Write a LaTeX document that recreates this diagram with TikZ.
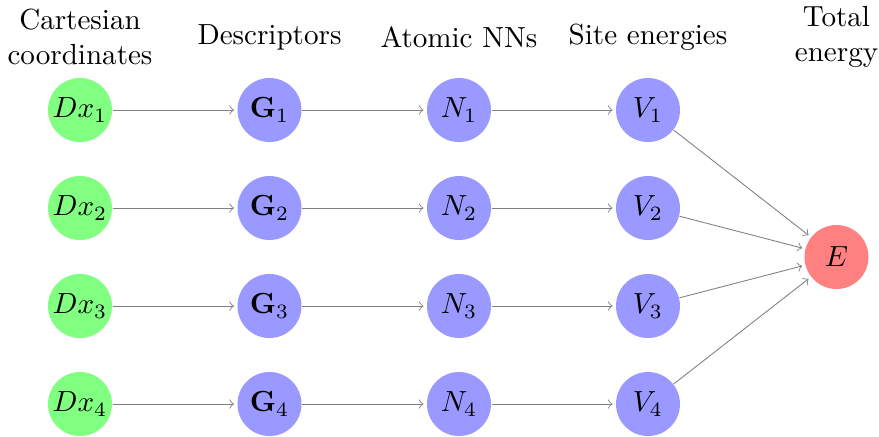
\documentclass[tikz,border=0pt]{standalone}
\begin{document}
\begin{tikzpicture}[x=0.3437pt,y=-0.3437pt,
  neuron/.style={circle,minimum size=22pt,inner sep=0pt},
  inp/.style={neuron,fill=green!50},
  hid/.style={neuron,fill=blue!40},
  outp/.style={neuron,fill=red!50},
  conn/.style={->,draw=gray,line width=0.3pt,shorten >=1pt},
  annot/.style={align=center,text centered}]
\useasboundingbox (0,0) rectangle (879,436);
\foreach \r/\y in {1/110,2/208,3/306,4/404}{
  \node[inp] (D\r) at (80,\y) {$Dx_\r$};
  \node[hid] (G\r) at (269.5,\y) {$\mathbf{G}_\r$};
  \node[hid] (N\r) at (459,\y) {$N_\r$};
  \node[hid] (V\r) at (648,\y) {$V_\r$};
}
\node[outp] (E) at (836.5,257) {$E$};
\foreach \r in {1,2,3,4}{
  \draw[conn] (D\r) -- (G\r);
  \draw[conn] (G\r) -- (N\r);
  \draw[conn] (N\r) -- (V\r);
  \draw[conn] (V\r) -- (E);
}
\node[annot] (lc) at (80,37) {Cartesian\\coordinates};
\node[annot] (ld) at (269.5,37) {Descriptors};
\node[annot] (ln) at (459,37) {Atomic NNs};
\node[annot] (lv) at (648,37) {Site energies};
\node[annot] (le) at (836.5,37) {Total\\energy};
\end{tikzpicture}
\end{document}
